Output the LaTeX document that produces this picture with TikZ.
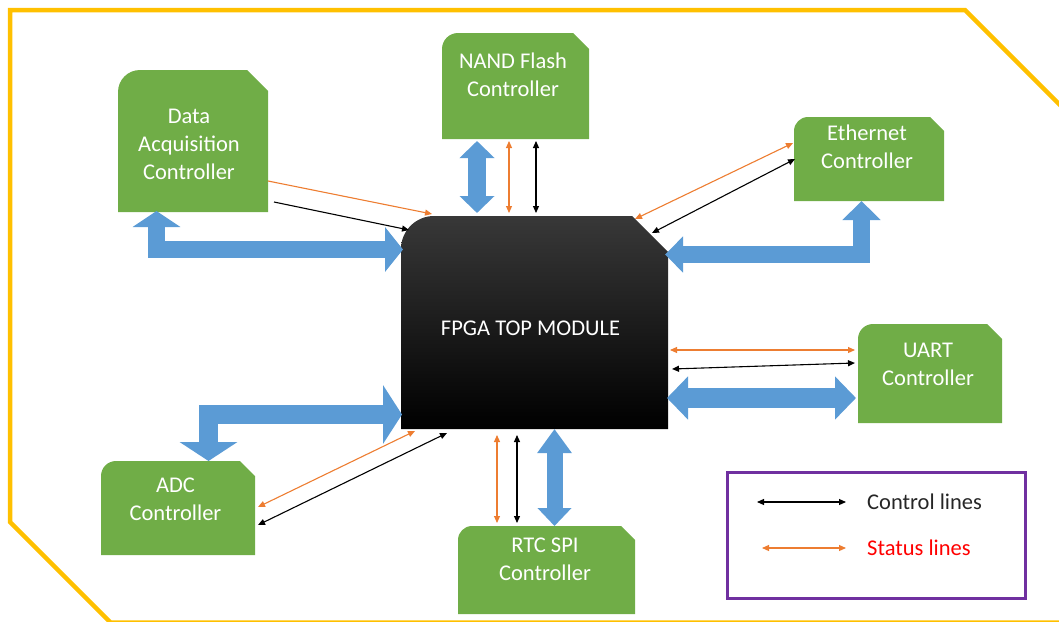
\documentclass[tikz,border=0pt]{standalone}
\usepackage{fontspec}
\setmainfont{Carlito}
\usetikzlibrary{arrows.meta}

\definecolor{ctrlgreen}{HTML}{70AD47}
\definecolor{busblue}{HTML}{5B9BD5}
\definecolor{statorange}{HTML}{ED7D31}
\definecolor{frameyellow}{HTML}{FFC000}
\definecolor{legendpurple}{HTML}{7030A0}

% block with a rounded top-left corner and a snipped top-right corner
\newcommand\sniproundpath[3]{% node, snip size, round radius
  (#1.south west) -- ([yshift=-#3]#1.north west)
  arc[start angle=180,end angle=90,radius=#3]
  -- ([xshift=-#2]#1.north east) -- ([yshift=-#2]#1.north east)
  -- (#1.south east) -- cycle}

\tikzset{
  area/.style={rectangle,inner sep=0pt,outer sep=0pt,draw=none},
  lbl/.style={text=white,align=center,inner sep=0pt,
    font=\fontsize{22.5}{28}\selectfont},
  bus/.style={draw=busblue,line width=#1,line join=miter},
  ctl/.style={draw=black,line width=1.1pt,
    {Triangle[length=7pt,width=6pt]}-{Triangle[length=7pt,width=6pt]}},
  sts/.style={draw=statorange,line width=1.1pt,
    {Triangle[length=7pt,width=6pt]}-{Triangle[length=7pt,width=6pt]}},
}

\begin{document}
\begin{tikzpicture}[x=1pt,y=1pt]
\useasboundingbox (0,0) rectangle (1059,-621);

% outer frame
\draw[frameyellow,line width=4.5pt,line join=miter]
  (1080,-125) -- (965,-10) -- (10,-10) -- (10,-522) -- (110.5,-622.5) -- (1080,-622.5);

% block areas
\node[area,minimum width=150pt,minimum height=142pt] (daq)  at (193,-141) {};
\node[area,minimum width=147pt,minimum height=106pt] (nand) at (515.5,-86) {};
\node[area,minimum width=150pt,minimum height=84pt]  (eth)  at (869,-159) {};
\node[area,minimum width=144pt,minimum height=99pt]  (uart) at (930,-373.5) {};
\node[area,minimum width=154pt,minimum height=94pt]  (adc)  at (178,-508) {};
\node[area,minimum width=177pt,minimum height=88pt]  (rtc)  at (546.5,-570) {};
\node[area,minimum width=267pt,minimum height=213pt] (fpga) at (534.5,-322.5) {};

% controller blocks
\fill[ctrlgreen] \sniproundpath{daq}{21pt}{22pt};
\fill[ctrlgreen] \sniproundpath{nand}{16pt}{16pt};
\fill[ctrlgreen] \sniproundpath{eth}{14pt}{14pt};
\fill[ctrlgreen] \sniproundpath{uart}{15pt}{15pt};
\fill[ctrlgreen] \sniproundpath{adc}{15pt}{15pt};
\fill[ctrlgreen] \sniproundpath{rtc}{14pt}{14pt};

% top module
\shade[top color=black!78,middle color=black,bottom color=black]
  \sniproundpath{fpga}{36pt}{33pt};

% labels
\node[lbl] (daq-t)  at (189,-144)   {Data\\Acquisition\\Controller};
\node[lbl] (nand-t) at (513,-75)    {NAND Flash\\Controller};
\node[lbl] (eth-t)  at (867,-147)   {Ethernet\\Controller};
\node[lbl] (uart-t) at (928,-364)   {UART\\Controller};
\node[lbl] (adc-t)  at (175.5,-499) {ADC\\Controller};
\node[lbl] (rtc-t)  at (545,-559)   {RTC SPI\\Controller};
\node[lbl] (fpga-t) at (530.5,-328) {FPGA TOP MODULE};

% data buses
\draw[bus=17pt,{Triangle[width=47pt,length=16pt]}-{Triangle[width=44pt,length=18pt]}]
  ([xshift=-36.5pt,yshift=1pt]daq.south) |- ([xshift=2pt,yshift=73pt]fpga.west);
\draw[bus=18pt,{Triangle[width=34pt,length=17pt]}-{Triangle[width=34pt,length=17pt]}]
  ([xshift=-38.5pt,yshift=-2pt]nand.south) -- ([xshift=-57.5pt,yshift=3pt]fpga.north);
\draw[bus=17pt,{Triangle[width=35pt,length=18pt]}-{Triangle[width=37pt,length=19pt]}]
  ([xshift=-3pt,yshift=68pt]fpga.east) -| ([xshift=-7.5pt]eth.south);
\draw[bus=20pt,{Triangle[width=42pt,length=21pt]}-{Triangle[width=42pt,length=21pt]}]
  ([xshift=-1pt,yshift=-75.5pt]fpga.east) -- ([xshift=-2pt,yshift=-24.5pt]uart.west);
\draw[bus=19pt,{Triangle[width=58pt,length=19pt]}-{Triangle[width=57pt,length=19pt]}]
  ([xshift=1pt,yshift=-92pt]fpga.west) -| ([xshift=30.5pt]adc.north);
\draw[bus=16pt,{Triangle[width=33pt,length=24pt]}-{Triangle[width=33pt,length=18pt]}]
  ([xshift=20pt]fpga.south) -- ([xshift=8pt]rtc.north);

% status and control lines
\draw[draw=statorange,line width=1.1pt,-{Triangle[length=7pt,width=6pt]}]
  ([yshift=-40pt]daq.east) -- ([xshift=31pt,yshift=2pt]fpga.north west);
\draw[draw=black,line width=1.1pt,-{Triangle[length=7pt,width=6pt]}]
  ([xshift=6pt,yshift=-61pt]daq.east) -- ([xshift=8pt,yshift=-14pt]fpga.north west);

\draw[sts] ([xshift=-6.5pt,yshift=-2pt]nand.south) -- ([xshift=-25.5pt,yshift=3pt]fpga.north);
\draw[ctl] ([xshift=20.5pt,yshift=-2pt]nand.south) -- ([xshift=1.5pt,yshift=3pt]fpga.north);

\draw[sts] ([xshift=-1pt,yshift=16pt]eth.west) -- ([xshift=-33pt,yshift=-3pt]fpga.north east);
\draw[ctl] ([xshift=1pt]eth.west) -- ([xshift=-16pt,yshift=-17pt]fpga.north east);

\draw[sts] ([xshift=2pt,yshift=-27.5pt]fpga.east) -- ([xshift=-3pt,yshift=23.5pt]uart.west);
\draw[ctl] ([xshift=4pt,yshift=-46.5pt]fpga.east) -- ([xshift=-3pt,yshift=10.5pt]uart.west);

\draw[sts] ([xshift=3pt,yshift=1pt]adc.east) -- ([xshift=14pt,yshift=-2pt]fpga.south west);
\draw[ctl] ([xshift=3pt,yshift=-17pt]adc.east) -- ([xshift=46pt,yshift=-4pt]fpga.south west);

\draw[sts] ([xshift=-37.5pt,yshift=-6pt]fpga.south) -- ([xshift=-49.5pt,yshift=3pt]rtc.north);
\draw[ctl] ([xshift=-17.5pt,yshift=-6pt]fpga.south) -- ([xshift=-29.5pt,yshift=3pt]rtc.north);

% legend
\node[draw=legendpurple,line width=3pt,minimum width=298pt,minimum height=126pt,inner sep=0pt]
  (legend) at (876,-535) {};
\node[anchor=west,inner sep=0pt,text=black!85,font=\fontsize{22.5}{28}\selectfont]
  (ctl-t) at (867,-502) {Control lines};
\node[anchor=west,inner sep=0pt,text=red,font=\fontsize{22.5}{28}\selectfont]
  (sts-t) at (867,-548) {Status lines};
\draw[ctl] ([xshift=-110pt]ctl-t.west) -- ([xshift=-21pt]ctl-t.west);
\draw[sts] ([xshift=-105pt]sts-t.west) -- ([xshift=-21pt]sts-t.west);
\end{tikzpicture}
\end{document}
